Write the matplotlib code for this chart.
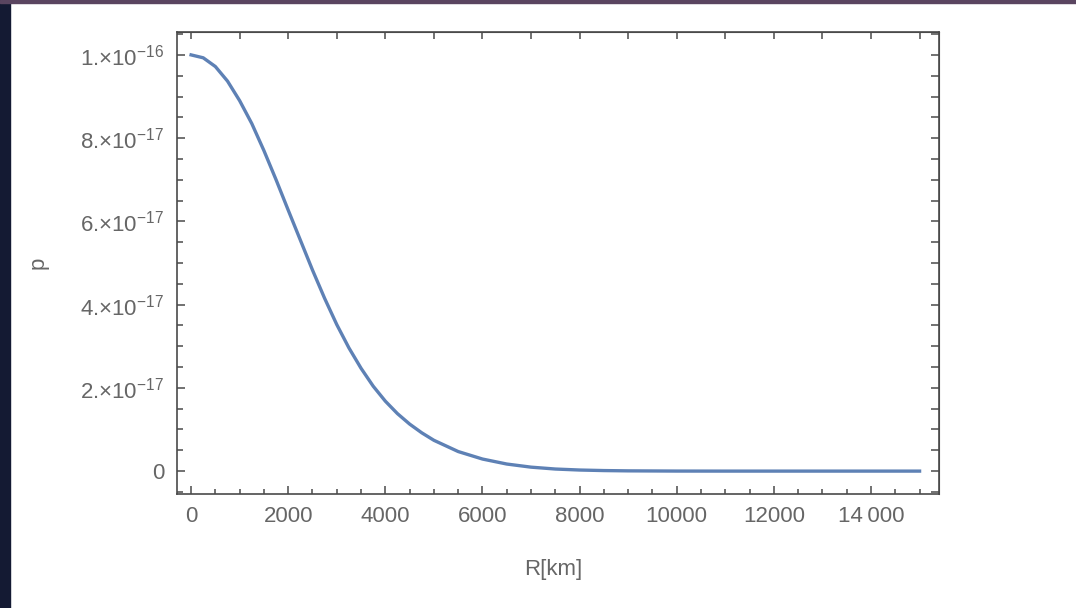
import numpy as np
import matplotlib
matplotlib.use('Agg')
import matplotlib.pyplot as plt
from matplotlib.ticker import MultipleLocator, FixedLocator
from matplotlib.patches import Rectangle

plt.rcParams['font.family'] = ['Liberation Sans', 'DejaVu Sans']
plt.rcParams['mathtext.fontset'] = 'custom'
plt.rcParams['mathtext.rm'] = 'Liberation Sans'
plt.rcParams['mathtext.default'] = 'regular'

# values (p in units of 1e-16)
r_km = [0, 250, 500, 750, 1000, 1250, 1500, 1750, 2000, 2250, 2500, 2750, 3000, 3250, 3500,
        3750, 4000, 4250, 4500, 4750, 5000, 5500, 6000, 6500, 7000, 7500, 8000, 8500, 9000,
        10000, 11000, 12000, 13000, 14000, 15000]
p_rel = [1.0, 0.993, 0.972, 0.937, 0.89, 0.835, 0.77, 0.70, 0.627, 0.555, 0.483, 0.415,
         0.352, 0.296, 0.247, 0.204, 0.168, 0.138, 0.113, 0.092, 0.074, 0.047, 0.029, 0.017,
         0.0095, 0.005, 0.0026, 0.0013, 0.0006, 0.0001, 0.0, 0.0, 0.0, 0.0, 0.0]

x_ticks = [0, 2000, 4000, 6000, 8000, 10000, 12000, 14000]
x_labels = ['0', '2000', '4000', '6000', '8000', '10000', '12000', '14\u2009000']
y_ticks = [0, 2e-17, 4e-17, 6e-17, 8e-17, 1e-16]
y_labels = ['0', '2.×10$^{-17}$', '4.×10$^{-17}$', '6.×10$^{-17}$', '8.×10$^{-17}$',
            '1.×10$^{-16}$']

p = np.array(p_rel) * 1e-16

fig = plt.figure(figsize=(10.76, 6.08), dpi=100)
fig.patch.set_facecolor('white')
# dark strips at the left and top edge of the screenshot
fig.patches.append(Rectangle((0, 0), 10 / 1076, 1, transform=fig.transFigure,
                             color='#141a33', zorder=0))
fig.patches.append(Rectangle((0, 1 - 3 / 608), 1, 3 / 608, transform=fig.transFigure,
                             color='#5a4560', zorder=0))

ax = fig.add_axes([177 / 1076, 1 - 494 / 608, (939 - 177) / 1076, (494 - 32) / 608])
ax.plot(r_km, p, color='#5e81b5', lw=2.4, solid_joinstyle='round')

ax.set_xlim(-290, 15400)
ax.set_ylim(-5.5e-18, 1.055e-16)

frame_col = '#4a4a4a'
text_col = '#666666'
for s in ax.spines.values():
    s.set_color(frame_col)
    s.set_linewidth(1.2)

ax.xaxis.set_major_locator(FixedLocator(x_ticks))
ax.set_xticklabels(x_labels)
ax.xaxis.set_minor_locator(MultipleLocator(500))
ax.yaxis.set_major_locator(FixedLocator(y_ticks))
ax.set_yticklabels(y_labels)
ax.yaxis.set_minor_locator(MultipleLocator(5e-18))

ax.tick_params(which='both', direction='in', color=frame_col, width=1.1,
               labelcolor=text_col, labelsize=16)
ax.tick_params(axis='x', which='major', length=5.5, pad=9)
ax.tick_params(axis='x', which='minor', length=3.5)
ax.tick_params(axis='y', which='major', length=6, pad=9)
ax.tick_params(axis='y', which='minor', length=4)

top = ax.secondary_xaxis('top')
top.xaxis.set_major_locator(MultipleLocator(1000))
top.tick_params(direction='in', length=5, width=1.1, color=frame_col, labeltop=False)
top.spines['top'].set_color(frame_col)
right = ax.secondary_yaxis('right')
right.yaxis.set_major_locator(MultipleLocator(5e-18))
right.tick_params(direction='in', length=5.5, width=1.1, color=frame_col, labelright=False)
right.spines['right'].set_color(frame_col)

fig.text(553 / 1076, 1 - 570 / 608, 'R[km]', color=text_col, fontsize=16,
         ha='center', va='center')
fig.text(38 / 1076, 1 - 263 / 608, 'p', color=text_col, fontsize=16,
         ha='center', va='center', rotation=90)

fig.savefig('out.png', dpi=100)
